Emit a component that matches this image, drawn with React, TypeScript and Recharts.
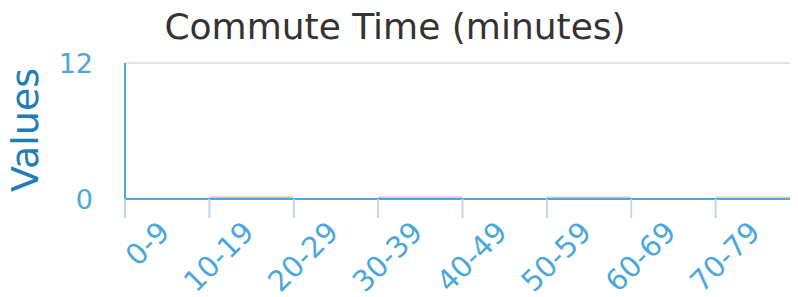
import React from "react";
import { BarChart, Bar, XAxis, YAxis, CartesianGrid, Cell } from "recharts";

const categories = ["0-9", "10-19", "20-29", "30-39", "40-49", "50-59", "60-69", "70-79"];
const values = [0.12, 0.22, 0, 0.22, 0, 0.22, 0, 0.22];
const barColors = ["#a8d8f4", "#f7c36a", "#f9e9b8", "#f0b2f7", "#c9e6f5", "#c5ccd4", "#f6d3e4", "#e9d1ad"];
const yTicks = [0, 12];
const title = "Commute Time (minutes)";
const yLabel = "Values";

const data = categories.map((c, i) => ({ name: c, value: values[i] }));

const CHART_W = 792;
const CHART_H = 289;
const PLOT_LEFT = 117;
const BAND = (CHART_W - PLOT_LEFT) / categories.length;
const FONT = "DejaVu Sans";

const XTick = (props: any) => {
  const { x, y, payload } = props;
  const bx = x - BAND / 2;
  const ax = x + 4;
  const ay = y + 27;
  return (
    <g>
      <line x1={bx} y1={y - 8} x2={bx} y2={y + 11} stroke="#c8d4e8" strokeWidth={2} />
      <text
        x={ax}
        y={ay}
        transform={`rotate(-45, ${ax}, ${ay})`}
        textAnchor="end"
        fill="#4aa8dc"
        fontSize={29}
        fontFamily={FONT}
      >
        {payload.value}
      </text>
    </g>
  );
};

const YTick = (props: any) => {
  const { x, y, payload } = props;
  return (
    <text x={x} y={y} dy={10} textAnchor="end" fill="#4aa8dc" fontSize={27} fontFamily={FONT}>
      {payload.value}
    </text>
  );
};

export default function App() {
  return (
    <div style={{ position: "relative", width: CHART_W, height: CHART_H }}>
      <BarChart
        width={CHART_W}
        height={CHART_H}
        data={data}
        margin={{ top: 55, right: 0, left: 0, bottom: 0 }}
        barCategoryGap={0}
        style={{ fontFamily: FONT }}
      >
        <CartesianGrid vertical={false} stroke="#e3e3e3" strokeWidth={2} />
        <XAxis
          dataKey="name"
          interval={0}
          height={98}
          axisLine={{ stroke: "#4aa8dc", strokeWidth: 2 }}
          tickLine={false}
          tick={<XTick />}
          tickSize={0}
          tickMargin={8}
        />
        <YAxis
          width={PLOT_LEFT}
          domain={[0, 12]}
          ticks={yTicks}
          axisLine={{ stroke: "#4aa8dc", strokeWidth: 2 }}
          tickLine={false}
          tickSize={0}
          tickMargin={32}
          tick={<YTick />}
        />
        <Bar dataKey="value" isAnimationActive={false}>
          {data.map((d, i) => (
            <Cell key={d.name} fill={barColors[i]} />
          ))}
        </Bar>
        <text x={387} y={31} textAnchor="middle" fill="#333333" fontSize={36} fontFamily={FONT}>
          {title}
        </text>
        <text
          x={17}
          y={122}
          transform="rotate(-90, 17, 122)"
          textAnchor="middle"
          dominantBaseline="central"
          fill="#1f7db8"
          fontSize={38}
          fontFamily={FONT}
        >
          {yLabel}
        </text>
      </BarChart>
    </div>
  );
}
